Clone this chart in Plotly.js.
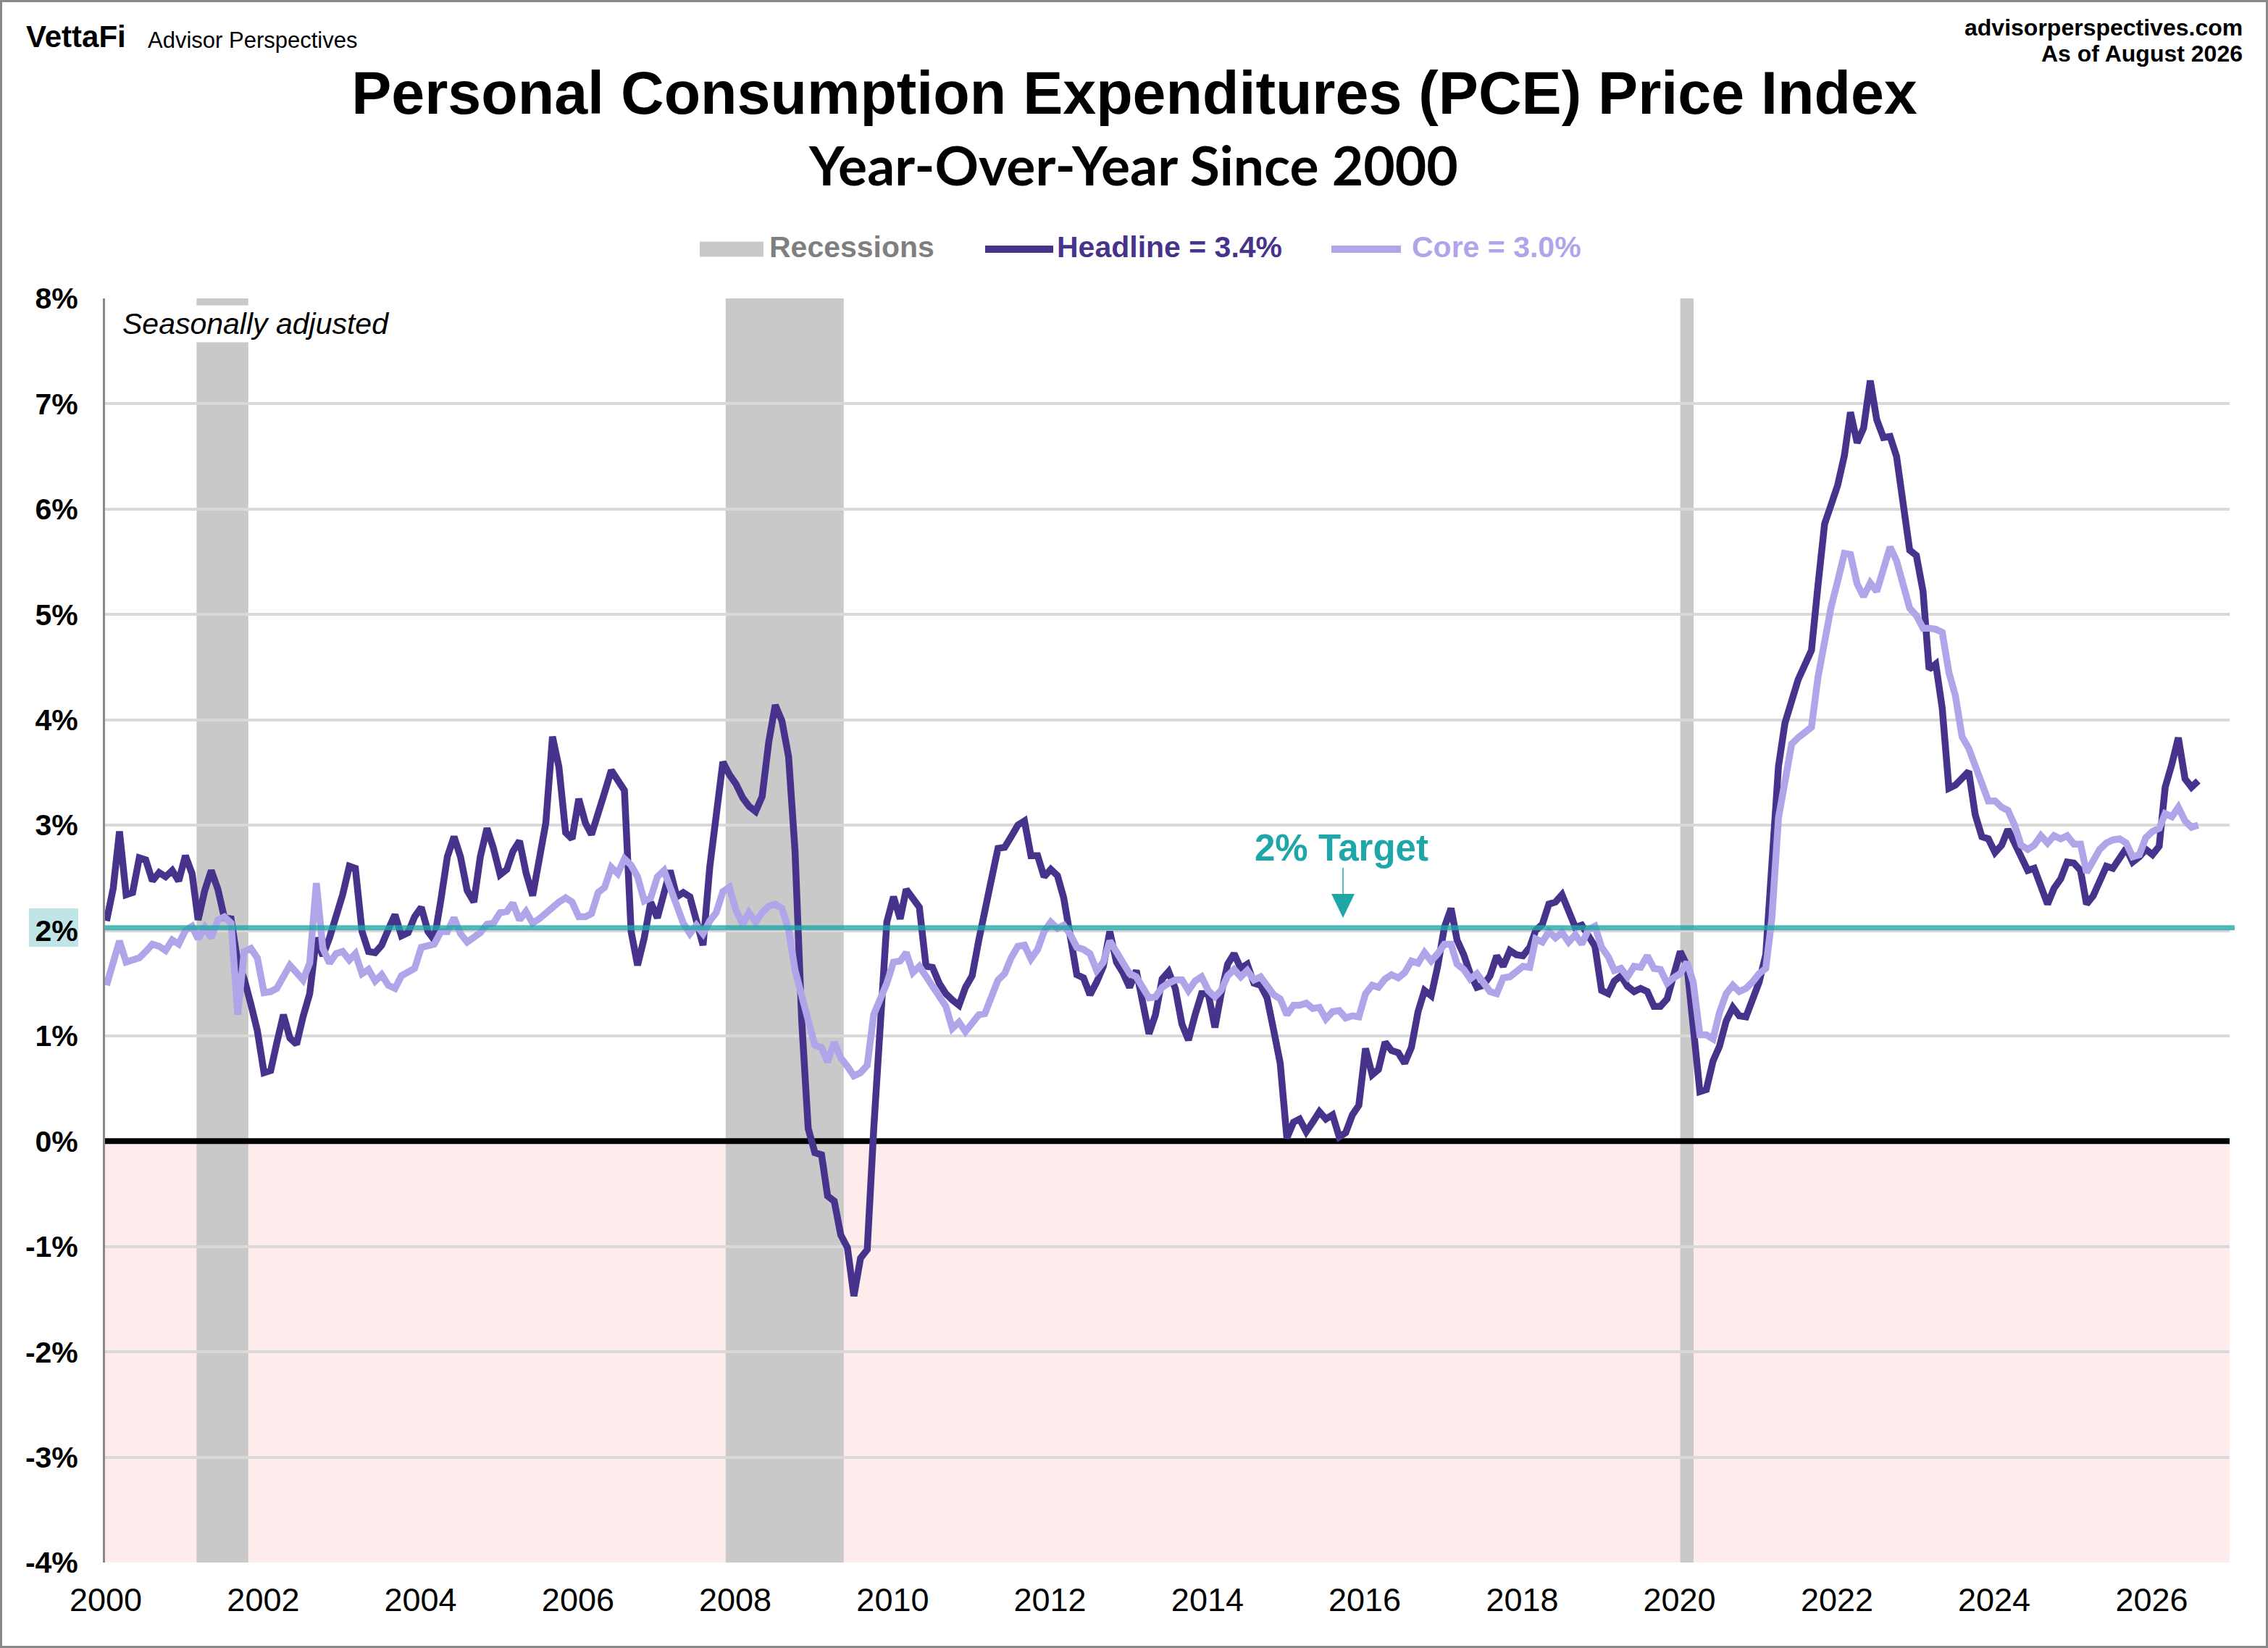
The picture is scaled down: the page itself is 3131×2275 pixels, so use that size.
<!DOCTYPE html>
<html><head><meta charset="utf-8">
<script src="https://cdn.plot.ly/plotly-3.0.1.min.js"></script>
<style>html,body{margin:0;padding:0;background:#fff}#c{width:3131px;height:2275px}.legendlines path{opacity:0}</style>
</head><body><div id="c"></div>
<script>
const headline = [
2.09,2.40,2.94,2.34,2.36,2.69,2.67,2.47,2.55,2.51,2.57,2.47,
2.71,2.54,2.10,2.38,2.57,2.39,2.12,2.11,1.70,1.54,1.30,1.05,
0.65,0.67,0.93,1.20,0.98,0.92,1.18,1.40,1.93,1.76,1.93,2.13,
2.34,2.61,2.59,1.99,1.80,1.79,1.86,2.01,2.15,1.95,1.98,2.13,
2.22,1.99,1.91,2.29,2.70,2.89,2.70,2.38,2.27,2.70,2.97,2.78,
2.53,2.58,2.75,2.85,2.55,2.33,2.66,3.02,3.84,3.55,2.93,2.87,
3.25,3.02,2.91,3.09,3.31,3.52,3.43,3.33,1.99,1.67,1.93,2.27,
2.12,2.37,2.57,2.32,2.36,2.32,2.12,1.86,2.60,3.16,3.60,3.48,
3.39,3.26,3.18,3.13,3.27,3.79,4.14,3.99,3.65,2.75,1.14,0.12,
-0.11,-0.13,-0.52,-0.57,-0.89,-1.01,-1.47,-1.11,-1.03,0.11,1.23,2.08,
2.32,2.11,2.39,2.29,2.22,1.66,1.65,1.50,1.40,1.34,1.29,1.46,
1.57,1.91,2.16,2.49,2.78,2.79,2.89,3.00,3.04,2.71,2.71,2.51,
2.58,2.52,2.31,1.97,1.58,1.55,1.39,1.51,1.66,1.99,1.70,1.60,
1.46,1.62,1.30,1.02,1.20,1.54,1.61,1.45,1.11,0.96,1.20,1.40,
1.40,1.08,1.39,1.68,1.78,1.64,1.68,1.50,1.48,1.36,1.05,0.74,
0.03,0.18,0.21,0.09,0.18,0.28,0.21,0.25,0.04,0.08,0.25,0.34,
0.88,0.63,0.68,0.94,0.86,0.84,0.74,0.89,1.23,1.43,1.38,1.66,
2.03,2.21,1.91,1.77,1.59,1.46,1.48,1.57,1.76,1.66,1.81,1.77,
1.76,1.84,2.00,2.06,2.25,2.27,2.34,2.18,2.03,2.05,1.95,1.85,
1.43,1.40,1.52,1.57,1.47,1.42,1.45,1.42,1.28,1.28,1.35,1.55,
1.80,1.67,1.07,0.47,0.49,0.76,0.90,1.14,1.27,1.19,1.18,1.36,
1.51,1.77,2.61,3.56,3.97,4.21,4.38,4.52,4.66,5.27,5.86,6.04,
6.23,6.51,6.92,6.63,6.77,7.22,6.85,6.68,6.69,6.50,6.04,5.61,
5.56,5.22,4.48,4.53,4.11,3.35,3.38,3.44,3.51,3.10,2.89,2.87,
2.74,2.81,2.96,2.83,2.69,2.57,2.59,2.42,2.25,2.40,2.49,2.65,
2.64,2.57,2.25,2.33,2.47,2.61,2.59,2.70,2.78,2.65,2.70,2.77,
2.72,2.80,3.36,3.58,3.83,3.44,3.36,3.42];
const core = [
1.48,1.68,1.90,1.70,1.72,1.74,1.80,1.87,1.85,1.81,1.91,1.87,
2.00,2.04,1.92,2.03,1.93,2.10,2.13,2.07,1.20,1.80,1.83,1.74,
1.41,1.42,1.45,1.58,1.67,1.60,1.53,1.69,2.45,1.83,1.69,1.78,
1.80,1.72,1.78,1.59,1.63,1.52,1.58,1.48,1.45,1.57,1.61,1.64,
1.84,1.85,1.87,1.99,1.99,2.12,1.97,1.89,1.94,1.98,2.06,2.07,
2.17,2.18,2.26,2.10,2.18,2.07,2.11,2.17,2.21,2.27,2.31,2.27,
2.13,2.13,2.16,2.36,2.41,2.60,2.54,2.68,2.62,2.51,2.28,2.31,
2.51,2.57,2.41,2.21,2.07,1.97,2.05,1.97,2.09,2.17,2.37,2.41,
2.19,2.06,2.17,2.08,2.17,2.23,2.25,2.21,2.01,1.62,1.39,1.14,
0.91,0.89,0.75,0.94,0.79,0.71,0.62,0.65,0.72,1.20,1.35,1.50,
1.70,1.71,1.79,1.60,1.66,1.56,1.46,1.39,1.28,1.07,1.13,1.04,
1.13,1.20,1.21,1.39,1.53,1.59,1.74,1.85,1.86,1.73,1.82,1.99,
2.08,2.02,2.05,1.96,1.84,1.82,1.78,1.62,1.70,1.90,1.80,1.70,
1.59,1.56,1.46,1.36,1.37,1.46,1.50,1.53,1.53,1.43,1.52,1.56,
1.43,1.37,1.43,1.57,1.63,1.56,1.62,1.53,1.56,1.48,1.39,1.35,
1.20,1.29,1.29,1.31,1.26,1.27,1.16,1.23,1.24,1.17,1.19,1.18,
1.40,1.48,1.46,1.54,1.58,1.55,1.60,1.71,1.69,1.79,1.71,1.78,
1.87,1.87,1.68,1.63,1.54,1.59,1.50,1.42,1.40,1.55,1.56,1.60,
1.66,1.65,1.92,1.89,1.99,1.93,1.98,1.89,1.96,1.87,2.01,2.04,
1.84,1.75,1.62,1.64,1.56,1.66,1.65,1.76,1.64,1.63,1.50,1.55,
1.59,1.70,1.51,1.01,1.01,0.97,1.22,1.40,1.48,1.42,1.45,1.51,
1.59,1.64,2.11,3.07,3.43,3.77,3.83,3.88,3.93,4.40,4.79,5.07,
5.32,5.58,5.57,5.29,5.17,5.30,5.22,5.41,5.64,5.51,5.27,5.06,
4.99,4.87,4.87,4.86,4.83,4.45,4.23,3.84,3.73,3.56,3.43,3.23,
3.23,3.17,3.14,3.00,2.81,2.77,2.81,2.90,2.83,2.90,2.87,2.90,
2.82,2.82,2.55,2.66,2.77,2.83,2.86,2.87,2.83,2.70,2.72,2.88,
2.94,2.97,3.11,3.08,3.17,3.04,2.98,3.00];
const recessions = [["2001-03-01","2001-10-27"],["2007-11-21","2009-05-22"],["2020-01-08","2020-03-10"]];
const axisRange = ["2000-01-01","2027-01-01"];
const yTicks = [-4,-3,-2,-1,0,1,2,3,4,5,6,7,8];
const yTickText = ["-4%","-3%","-2%","-1%","0%","1%","2%","3%","4%","5%","6%","7%","8%"];
const months = headline.map((_,i)=>{const y=2000+Math.floor(i/12),m=i%12+1;return y+"-"+String(m).padStart(2,"0")+"-08";});

const A="Liberation Sans, Arial, sans-serif";
const DARK="#47338C",LIGHT="#B1A5E9",TEAL="#1FA6A8",GREY="#C9C9C9";
const L=145,R=3078,T=412,B=2157;
const px=x=>(x-L)/(R-L), py=y=>(B-y)/(B-T);

const traces=[
 {type:"scatter",mode:"lines",x:axisRange,y:[0,0],showlegend:false,line:{color:"#000",width:8},hoverinfo:"skip"},
 {type:"scatter",mode:"lines",x:[null],y:[null],legend:"legend",name:'<b><span style="color:#7F7F7F">Recessions</span></b>',line:{color:GREY,width:5},hoverinfo:"skip"},
 {type:"scatter",mode:"lines",x:months,y:headline,legend:"legend2",name:'<b><span style="color:'+DARK+'">Headline = 3.4%</span></b>',line:{color:DARK,width:9.5}},
 {type:"scatter",mode:"lines",x:months,y:core,legend:"legend3",name:'<b><span style="color:'+LIGHT+'">Core = 3.0%</span></b>',line:{color:LIGHT,width:9.5}}
];
const swatch=(x0,x1,y,color,w)=>({type:"line",layer:"above",xref:"paper",yref:"paper",x0:px(x0),x1:px(x1),y0:py(y),y1:py(y),line:{color,width:w}});
const shapes=[
 {type:"rect",layer:"below",xref:"paper",yref:"y",x0:0,x1:1,y0:-4,y1:0,fillcolor:"#FEECEC",line:{width:0}},
 ...recessions.map(r=>({type:"rect",layer:"between",xref:"x",yref:"paper",x0:r[0],x1:r[1],y0:0,y1:1,fillcolor:GREY,line:{width:0}})),
 {type:"line",layer:"above",xref:"paper",yref:"y",x0:0,x1:px(3085),y0:2.025,y1:2.025,line:{color:"rgba(31,166,168,0.78)",width:7}},
 {type:"rect",layer:"below",xref:"paper",yref:"paper",x0:px(40),x1:px(108),y0:py(1307),y1:py(1254),fillcolor:"#BFE5E6",line:{width:0}},
 {type:"rect",layer:"below",xref:"paper",yref:"paper",x0:px(1.5),x1:px(3129.5),y0:py(2273.5),y1:py(1.5),line:{color:"#888",width:3},fillcolor:"rgba(0,0,0,0)"},
 {type:"line",layer:"above",xref:"paper",yref:"paper",x0:px(1854),x1:px(1854),y0:py(1198),y1:py(1236),line:{color:TEAL,width:1.5}},
 {type:"path",layer:"above",xref:"paper",yref:"paper",path:`M${px(1838)},${py(1234)}L${px(1870)},${py(1234)}L${px(1854)},${py(1267)}Z`,fillcolor:TEAL,line:{width:0}},
 swatch(966,1054,344,GREY,21),
 swatch(1360,1454,344,DARK,10),
 swatch(1838,1934,344,LIGHT,10)
];
const ann=(x,y,text,size,opts={})=>Object.assign({xref:"paper",yref:"paper",x:px(x),y:py(y),text,showarrow:false,font:{family:A,size,color:"#000"},xanchor:"left",yanchor:"middle"},opts);
const annotations=[
 ann(34,50,"<b>VettaFi</b>",42),
 ann(202,55,"Advisor Perspectives",31),
 ann(3098,38,"<b>advisorperspectives.com</b>",32,{xanchor:"right"}),
 ann(3098,74,"<b>As of August 2026</b>",32,{xanchor:"right"}),
 ann(1564,227,"<b>Year-Over-Year Since 2000</b>",75,{xanchor:"center",font:{family:"Lato, Liberation Sans, sans-serif",size:75,color:"#000"}}),
 ann(166,447,"<i>Seasonally adjusted</i>",41,{bgcolor:"#fff",borderpad:2}),
 ann(1852,1170,"<b>2% Target</b>",51,{xanchor:"center",font:{family:A,size:51,color:TEAL}})
];
const leg=x=>({orientation:"h",x:px(x),xanchor:"left",y:py(339),yanchor:"middle",font:{family:A,size:41},itemwidth:50,bgcolor:"rgba(0,0,0,0)",itemclick:false});
const layout={
 width:3131,height:2275,paper_bgcolor:"#fff",plot_bgcolor:"#fff",
 margin:{l:L,r:3131-R,t:T,b:2275-B,autoexpand:false},
 font:{family:A},
 title:{text:"<b>Personal Consumption Expenditures (PCE) Price Index</b>",font:{family:A,size:82.6,color:"#000"},x:px(1566),xanchor:"center",xref:"paper",y:1-128/2275,yref:"container",yanchor:"middle"},
 xaxis:{type:"date",range:axisRange,dtick:"M24",tick0:"2000-01-01",tickformat:"%Y",showgrid:false,zeroline:false,showline:false,ticks:"outside",ticklen:12,tickcolor:"rgba(0,0,0,0)",ticklabelshift:1,tickfont:{family:A,size:45,color:"#000"}},
 yaxis:{range:[-4,8],tickmode:"array",tickvals:yTicks,ticktext:yTickText,showgrid:true,gridcolor:"#D9D9D9",gridwidth:4,zeroline:false,showline:true,linecolor:"#888",linewidth:3,ticks:"outside",ticklen:26,tickcolor:"rgba(0,0,0,0)",tickfont:{family:A,size:41,color:"#000",weight:700}},
 legend:leg(1002),legend2:leg(1399),legend3:leg(1889),
 shapes,annotations,showlegend:true
};
Plotly.newPlot("c",traces,layout,{displayModeBar:false,staticPlot:true}).then(()=>{
 document.querySelectorAll(".legendlines path").forEach(p=>{p.style.strokeOpacity=0;});
});
</script></body></html>
